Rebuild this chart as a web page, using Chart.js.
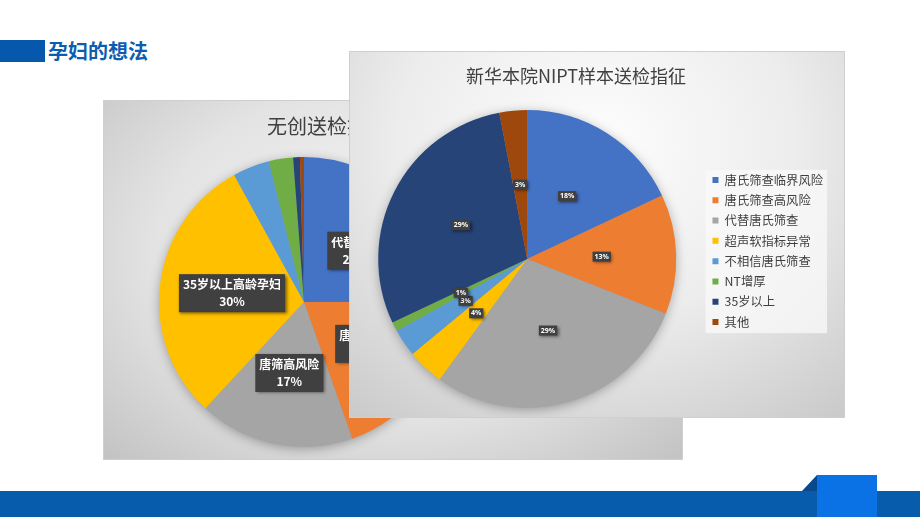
<!DOCTYPE html>
<html>
<head>
<meta charset="utf-8">
<script src="https://cdn.jsdelivr.net/npm/chart.js@4/dist/chart.umd.min.js"></script>
<style>
  body { margin: 0; width: 920px; height: 517px; position: relative; overflow: hidden; background: #fff;
         font-family: "Noto Sans CJK SC", "Noto Sans", sans-serif; }
  .head-bar { position: absolute; left: 0; top: 40px; width: 45px; height: 22px; background: #0558ab; }
  .head-text { position: absolute; left: 48px; top: 37px; font-size: 20px; line-height: 28px; font-weight: bold; color: #0c5cb0; }
  .box { position: absolute; box-sizing: border-box; border: 1px solid #cfcfcf; }
  #boxA { left: 103px; top: 100px; width: 580px; height: 360px;
          background: radial-gradient(ellipse 75% 85% at 50% 42%, #f8f8f8 0%, #e3e3e3 55%, #bfbfbf 100%); }
  #boxB { left: 349px; top: 51px; width: 496px; height: 367px;
          background: radial-gradient(ellipse 80% 95% at 50% 25%, #fdfdfd 0%, #ededed 50%, #cacaca 100%); }
  .titleA { position: absolute; left: 163px; top: 11px; font-size: 20px; line-height: 28px; color: #404040; white-space: nowrap; }
  .titleB { position: absolute; left: 0; top: 10px; width: 452px; text-align: center; font-size: 18px; line-height: 26px; color: #404040; white-space: nowrap; }
  canvas { position: absolute; left: 0; top: 0; }
  .foot { position: absolute; left: 0; top: 491px; width: 920px; height: 26px; background: #075dab; }
  .foot-tri { position: absolute; left: 802px; top: 475px; width: 15px; height: 16px; background: #08488d;
              clip-path: polygon(100% 0, 100% 100%, 0 100%); }
  .foot-sq { position: absolute; left: 817px; top: 475px; width: 60px; height: 42px; background: #0b72e6; }
</style>
</head>
<body>
<div class="head-bar"></div>
<div class="head-text">孕妇的想法</div>

<div class="box" id="boxA">
  <canvas id="chartA" width="578" height="358"></canvas>
  <div class="titleA">无创送检指征</div>
</div>

<div class="box" id="boxB">
  <canvas id="chartB" width="494" height="365"></canvas>
  <div class="titleB">新华本院NIPT样本送检指征</div>
</div>

<div class="foot"></div>
<div class="foot-tri"></div>
<div class="foot-sq"></div>

<script>
// 左图：无创送检指征（百分比）
const reasonsA = ["代替唐筛", "唐筛临界", "唐筛高风险", "35岁以上高龄孕妇", "超声软指标异常", "NT增厚", "不良孕产史", "其他"];
const sharesA = [25, 19.6, 17.3, 30.1, 4.1, 2.7, 0.75, 0.45];

// 右图：新华本院NIPT样本送检指征（百分比）
const reasonsB = ["唐氏筛查临界风险", "唐氏筛查高风险", "代替唐氏筛查", "超声软指标异常", "不相信唐氏筛查", "NT增厚", "35岁以上", "其他"];
const sharesB = [18, 13, 29, 4, 3, 1, 29, 3];

const officeColors = ["#4472c4", "#ed7d31", "#a5a5a5", "#ffc000", "#5b9bd5", "#70ad47", "#264478", "#9e480e"];

Chart.defaults.font.family = '"Noto Sans CJK SC", "Noto Sans", sans-serif';
Chart.defaults.color = "#404040";

// 饼图阴影 + 深色数据标签
const sliceLabels = {
    id: "sliceLabels",
    beforeDatasetsDraw(chart) {
        const first = chart.getDatasetMeta(0).data[0];
        if (!first) return;
        const ctx = chart.ctx;
        ctx.save();
        ctx.shadowColor = "rgba(0,0,0,0.35)";
        ctx.shadowBlur = 12;
        ctx.shadowOffsetY = 2;
        ctx.fillStyle = "#999";
        ctx.beginPath();
        ctx.arc(first.x, first.y, first.outerRadius - 1, 0, Math.PI * 2);
        ctx.fill();
        ctx.restore();
    },
    afterDatasetsDraw(chart, args, opts) {
        const ctx = chart.ctx;
        const values = chart.data.datasets[0].data;
        const total = values.reduce((a, b) => a + b, 0);
        ctx.save();
        ctx.font = opts.font;
        ctx.textAlign = "center";
        ctx.textBaseline = "middle";
        chart.getDatasetMeta(0).data.forEach((arc, i) => {
            const share = values[i] / total * 100;
            if (share < opts.minShare) return;
            const pct = Math.round(share) + "%";
            const lines = opts.showName ? [chart.data.labels[i], pct] : [pct];
            const p = arc.tooltipPosition();
            const w = Math.max(...lines.map(t => ctx.measureText(t).width)) + opts.padX * 2;
            const h = lines.length * opts.lineHeight + opts.padY * 2;
            ctx.shadowColor = "rgba(0,0,0,0.5)";
            ctx.shadowBlur = 3;
            ctx.shadowOffsetX = 1.5;
            ctx.shadowOffsetY = 1.5;
            ctx.fillStyle = "#404040";
            ctx.fillRect(p.x - w / 2, p.y - h / 2, w, h);
            ctx.shadowColor = "transparent";
            ctx.fillStyle = "#fff";
            lines.forEach((t, k) => ctx.fillText(t, p.x, p.y - h / 2 + opts.padY + opts.lineHeight * (k + 0.5)));
        });
        ctx.restore();
    }
};

// 图例：略微上移，并画浅色底框
const legendPanel = {
    id: "legendPanel",
    afterLayout(chart, args, opts) {
        const lg = chart.legend;
        if (!lg || !lg.options.display) return;
        lg.top -= opts.lift;
        lg.bottom -= opts.lift;
    },
    beforeDraw(chart) {
        const lg = chart.legend;
        if (!lg || !lg.options.display || !lg.legendHitBoxes.length) return;
        const boxes = lg.legendHitBoxes;
        const x1 = Math.min(...boxes.map(b => b.left)) - 7;
        const x2 = Math.max(...boxes.map(b => b.left + b.width)) + 4;
        const y1 = boxes[0].top - 4;
        const y2 = boxes[boxes.length - 1].top + boxes[boxes.length - 1].height + 5;
        chart.ctx.save();
        chart.ctx.fillStyle = "rgba(250,250,250,0.75)";
        chart.ctx.fillRect(x1, y1, x2 - x1, y2 - y1);
        chart.ctx.restore();
    }
};

new Chart(document.getElementById("chartA"), {
    type: "pie",
    data: {
        labels: reasonsA,
        datasets: [{ data: sharesA, backgroundColor: officeColors, borderWidth: 0, hoverOffset: 0 }]
    },
    options: {
        responsive: false,
        animation: false,
        layout: { padding: { left: 55, right: 233, top: 56, bottom: 12 } },
        plugins: {
            legend: { display: false },
            tooltip: { enabled: false },
            sliceLabels: { font: "bold 12px 'Noto Sans CJK SC'", lineHeight: 17, padX: 4, padY: 2, minShare: 10, showName: true }
        }
    },
    plugins: [sliceLabels]
});

new Chart(document.getElementById("chartB"), {
    type: "pie",
    data: {
        labels: reasonsB,
        datasets: [{ data: sharesB, backgroundColor: officeColors, borderWidth: 0, hoverOffset: 0 }]
    },
    options: {
        responsive: false,
        animation: false,
        layout: { padding: { left: 0, right: 11, top: 58, bottom: 9 } },
        plugins: {
            legend: {
                position: "right",
                fullSize: false,
                labels: { boxWidth: 6, boxHeight: 6, padding: 8, color: "#404040", font: { size: 12.3 } }
            },
            legendPanel: { lift: 8 },
            tooltip: { enabled: false },
            sliceLabels: { font: "bold 7px 'Noto Sans'", lineHeight: 9, padX: 2, padY: 0.5, minShare: 0, showName: false }
        }
    },
    plugins: [legendPanel, sliceLabels]
});
</script>
</body>
</html>
